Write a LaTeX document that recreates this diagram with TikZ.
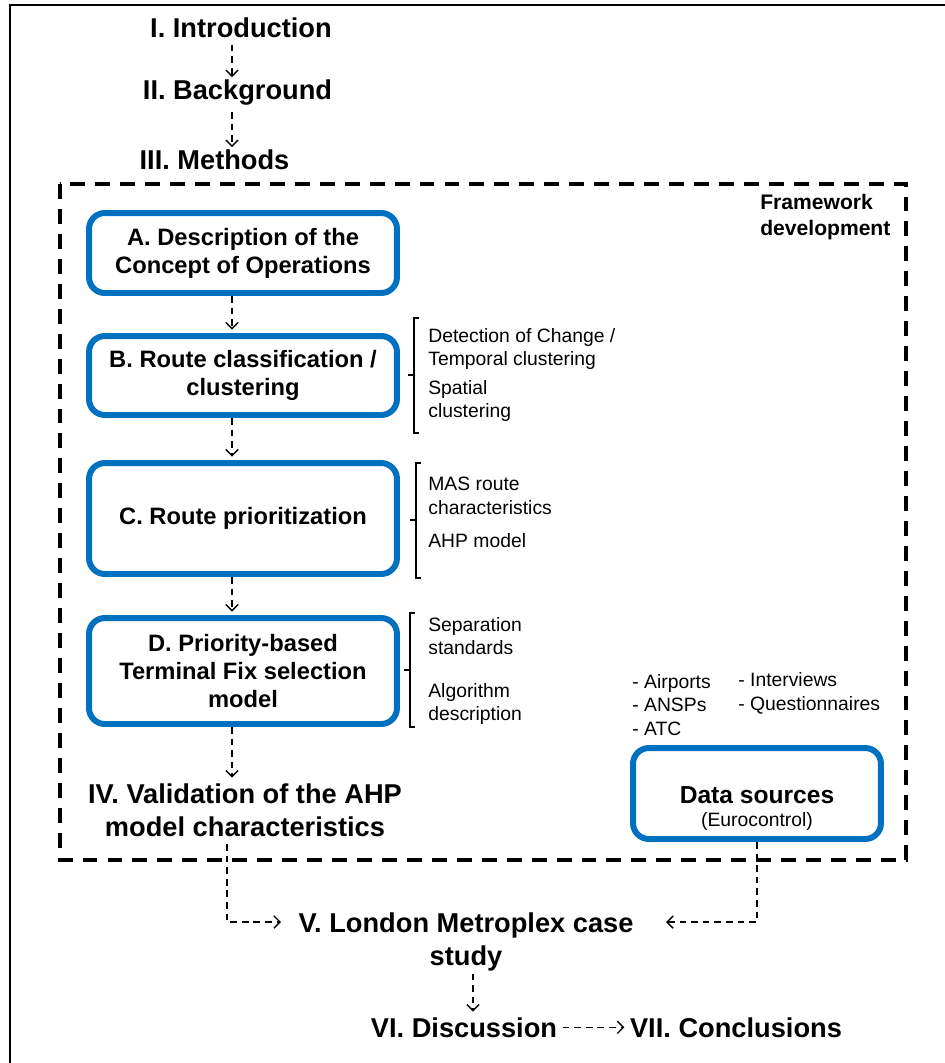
\documentclass[tikz,border=0pt]{standalone}
\usepackage{fontspec}
\setmainfont{Liberation Sans}
\usetikzlibrary{arrows.meta}
\definecolor{boxblue}{RGB}{0,112,192}
\begin{document}
\begin{tikzpicture}[x=0.02cm,y=-0.02cm,
  head/.style={font=\fontsize{15.5}{19}\selectfont\bfseries, inner sep=1pt, align=center},
  stage/.style={draw=boxblue, line width=3.4pt, rounded corners=9pt, minimum width=6.16cm, align=center, font=\fontsize{13.5}{16}\selectfont\bfseries},
  note/.style={font=\fontsize{11}{13.4}\selectfont, align=left, anchor=west, inner sep=0pt},
  conn/.style={dash pattern=on 3.8pt off 2.8pt, line width=0.8pt, -{Straight Barb[length=3.5pt,width=7pt]}},
  brk/.style={line width=0.7pt},
  fwframe/.style={dash pattern=on 8.5pt off 5.7pt, line width=2.3pt}
]
\useasboundingbox (0,0) rectangle (945,1063);
% outer frame (top and left edges)
\draw[line width=1.4pt] (10,1063) -- (10,5) -- (945,5);

% headings
\node[head, anchor=base] (intro) at (241,37) {I. Introduction};
\node[head, anchor=base] (back) at (237.5,99) {II. Background};
\node[head, anchor=base] (meth) at (214.5,169) {III. Methods};

\coordinate (ax) at (232,0);
\draw[conn, shorten <=3pt] (intro.south -| ax) -- (back.north -| ax);
\draw[conn, shorten <=3pt] (back.south -| ax) -- (meth.north -| ax);

% framework frame
\draw[fwframe] (60,184) rectangle (906,860);
\node[font=\fontsize{12}{14.7}\selectfont\bfseries, align=left, anchor=west, inner sep=0pt] (fw) at (760,217) {Framework\\development};

% stage boxes
\node[stage, minimum height=1.6cm] (A) at (243,253) {A. Description of the\\Concept of Operations};
\node[stage, minimum height=1.58cm] (B) at (243,375.5) {B. Route classification /\\clustering};
\node[stage, minimum height=2.22cm] (C) at (243,518.5) {C. Route prioritization};
\node[stage, minimum height=2.12cm] (D) at (243,671) {D. Priority-based\\Terminal Fix selection\\model};

\draw[conn, shorten >=2pt] (A.south -| ax) -- (B.north -| ax);
\draw[conn, shorten >=2pt] (B.south -| ax) -- (C.north -| ax);
\draw[conn, shorten >=2pt] (C.south -| ax) -- (D.north -| ax);

% brackets
\draw[brk] (419,318) -- (414,318) -- (414,433) -- (419,433);
\draw[brk] (414,375) -- (408,375);
\draw[brk] (421,463) -- (416,463) -- (416,578) -- (421,578);
\draw[brk] (416,520) -- (410,520);
\draw[brk] (415,613) -- (410,613) -- (410,727) -- (415,727);
\draw[brk] (410,670) -- (404,670);

% bracket notes
\node[note] (b1) at (428,349) {Detection of Change /\\Temporal clustering};
\node[note] (b2) at (428,401) {Spatial\\clustering};
\node[note] (c1) at (428,496) {MAS route\\characteristics};
\node[note] (c2) at (428,541) {AHP model};
\node[note] (d1) at (428,636) {Separation\\standards};
\node[note] (d2) at (428,704) {Algorithm\\description};

% IV
\node[head] (iv) at (245,810) {IV. Validation of the AHP\\model characteristics};
\draw[conn, shorten >=2pt] (D.south -| ax) -- (iv.north -| ax);

% data sources
\node[note, font=\fontsize{11}{13.6}\selectfont] (ds1) at (632,705) {- Airports\\- ANSPs\\- ATC};
\node[note, font=\fontsize{11}{13.6}\selectfont] (ds2) at (738,693.5) {- Interviews\\- Questionnaires};
\node[draw=boxblue, line width=3.4pt, rounded corners=9pt, minimum width=4.96cm, minimum height=1.82cm] (ds) at (757,793.5) {};
\node[font=\fontsize{14}{16}\selectfont\bfseries, inner sep=0pt] (dst) at (757,795) {Data sources};
\node[font=\fontsize{11}{13}\selectfont, inner sep=0pt] (dsr) at (757,821) {(Eurocontrol)};

% V
\node[head] (v) at (466,942) {V. London Metroplex case\\study};
\coordinate (vl) at (281,922);
\coordinate (vr) at (666,922);
\coordinate (lx) at (227,0);
\draw[conn, shorten <=3pt] (iv.south -| lx) |- (vl);
\draw[conn] (ds.south) |- (vr);

% VI, VII
\node[head, anchor=base] (vi) at (464,1037) {VI. Discussion};
\node[head, anchor=base] (vii) at (736,1037) {VII. Conclusions};
\coordinate (vx) at (473,0);
\draw[conn, shorten >=2pt] (v.south -| vx) -- (vi.north -| vx);
\draw[conn, shorten <=2pt, shorten >=2pt] (vi.east) -- (vii.west);
\end{tikzpicture}
\end{document}
